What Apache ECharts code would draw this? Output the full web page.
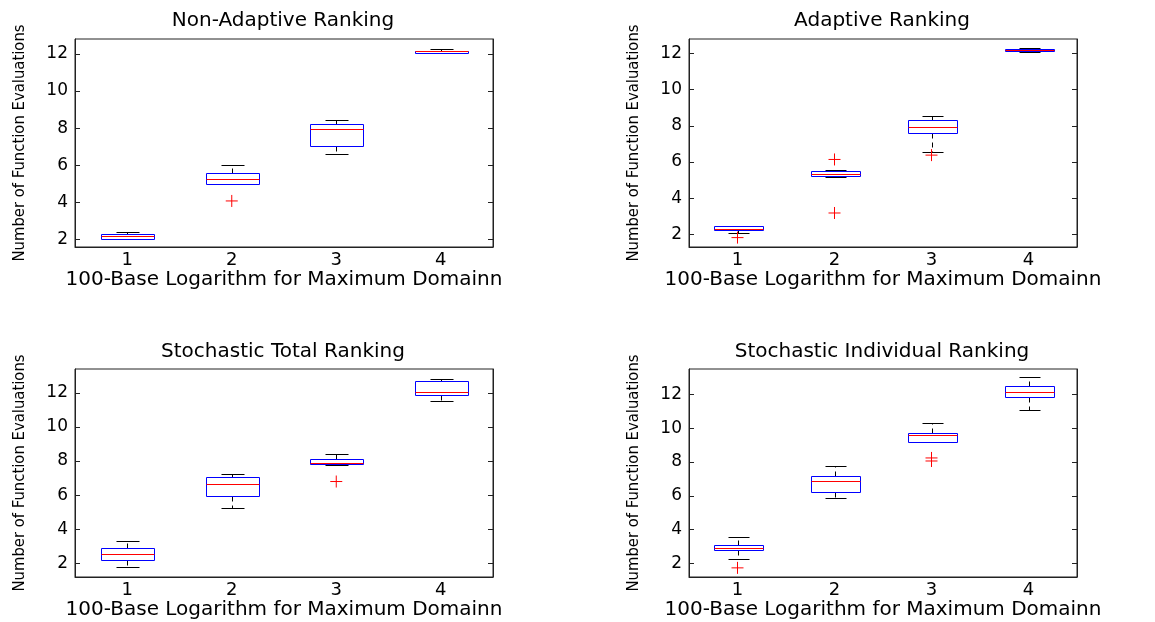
<!DOCTYPE html>
<html>
<head>
<meta charset="utf-8">
<script src="https://cdn.jsdelivr.net/npm/echarts@6/dist/echarts.min.js"></script>
<style>
html,body{margin:0;padding:0;background:#fff;}
#c{width:1155px;height:622px;}
</style>
</head>
<body>
<div id="c"></div>
<script>
// ---------- data ----------
const categories = ['1', '2', '3', '4'];
const yTicks = [2, 4, 6, 8, 10, 12];
const panelTitles = ['Non-Adaptive Ranking', 'Adaptive Ranking', 'Stochastic Total Ranking', 'Stochastic Individual Ranking'];
const xAxisName = '100-Base Logarithm for Maximum Domainn';
const yAxisName = 'Number of Function Evaluations';
const yMins = [1.6, 1.3, 1.2, 1.2];
const yMaxs = [12.8, 12.8, 13.4, 13.5];

// box stats per category: [min, q1, median, q3, max]
const nonAdaptiveStats = [
  [2.03, 2.05, 2.18, 2.32, 2.41],
  [4.97, 5.01, 5.26, 5.57, 6.01],
  [6.62, 7.04, 7.97, 8.24, 8.45],
  [12.03, 12.07, 12.16, 12.17, 12.27]
];
const adaptiveStats = [
  [2.09, 2.22, 2.31, 2.44, 2.44],
  [5.17, 5.20, 5.35, 5.52, 5.57],
  [6.53, 7.58, 7.91, 8.32, 8.52],
  [12.07, 12.15, 12.20, 12.24, 12.28]
];
const stochasticTotalStats = [
  [1.79, 2.19, 2.57, 2.88, 3.29],
  [5.24, 5.96, 6.64, 7.09, 7.26],
  [7.75, 7.83, 7.87, 8.10, 8.39],
  [11.51, 11.90, 12.08, 12.70, 12.84]
];
const stochasticIndividualStats = [
  [2.26, 2.77, 2.91, 3.11, 3.56],
  [5.90, 6.22, 6.89, 7.17, 7.78],
  [9.21, 9.21, 9.58, 9.72, 10.32],
  [11.07, 11.82, 12.16, 12.48, 13.01]
];
// outliers: [categoryIndex, value]
const nonAdaptiveOutliers = [[1, 4.08]];
const adaptiveOutliers = [[0, 1.82], [1, 6.14], [1, 3.18], [2, 6.38]];
const stochasticTotalOutliers = [[2, 6.80]];
const stochasticIndividualOutliers = [[0, 1.74], [2, 8.24], [2, 8.06]];

const allStats = [nonAdaptiveStats, adaptiveStats, stochasticTotalStats, stochasticIndividualStats];
const allOutliers = [nonAdaptiveOutliers, adaptiveOutliers, stochasticTotalOutliers, stochasticIndividualOutliers];

// ---------- layout ----------
const grids = [
  {left: 75, top: 39, width: 418, height: 208},
  {left: 689, top: 39, width: 388, height: 208},
  {left: 75, top: 369, width: 418, height: 208},
  {left: 689, top: 369, width: 388, height: 208}
];
const titleCenters = [[283, 21], [882, 21], [283, 352], [882, 352]];
const FONT = 'DejaVu Sans, sans-serif';
const AX = '#222';

function px(v) { return Math.round(v) + 0.5; }

function boxGeom(api) {
  const i = api.value(0);
  const c = api.coord([i, api.value(3)]);
  const bw = api.size([1, 0])[0] * 0.5;
  return {
    i: i, cx: px(c[0]), bw: bw,
    yMn: px(api.coord([i, api.value(1)])[1]),
    yQ1: px(api.coord([i, api.value(2)])[1]),
    yMd: px(c[1]),
    yQ3: px(api.coord([i, api.value(4)])[1]),
    yMx: px(api.coord([i, api.value(5)])[1])
  };
}

function renderWhiskers(params, api) {
  const g = boxGeom(api);
  const cw = g.bw * 0.45;
  const children = [];
  const xa = px(g.cx - cw / 2), xb = px(g.cx + cw / 2);
  if (g.yMx < g.yQ3) children.push({type: 'line', silent: true, shape: {x1: g.cx, y1: g.yQ3, x2: g.cx, y2: g.yMx}, style: {fill: 'none', stroke: '#000', lineWidth: 1, lineDash: [5, 4]}});
  if (g.yMn > g.yQ1) children.push({type: 'line', silent: true, shape: {x1: g.cx, y1: g.yQ1, x2: g.cx, y2: g.yMn}, style: {fill: 'none', stroke: '#000', lineWidth: 1, lineDash: [5, 4]}});
  children.push({type: 'line', silent: true, shape: {x1: xa, y1: g.yMx, x2: xb, y2: g.yMx}, style: {fill: 'none', stroke: '#000', lineWidth: 1}});
  children.push({type: 'line', silent: true, shape: {x1: xa, y1: g.yMn, x2: xb, y2: g.yMn}, style: {fill: 'none', stroke: '#000', lineWidth: 1}});
  return {type: 'group', children: children};
}

function renderRect(params, api) {
  const g = boxGeom(api);
  const x0 = px(g.cx - g.bw / 2), x1 = px(g.cx + g.bw / 2);
  return {type: 'rect', silent: true,
    shape: {x: x0, y: g.yQ3, width: x1 - x0, height: Math.max(g.yQ1 - g.yQ3, 1)},
    style: {fill: 'none', stroke: '#0000ff', lineWidth: 1}};
}

function renderMedian(params, api) {
  const g = boxGeom(api);
  const x0 = px(g.cx - g.bw / 2), x1 = px(g.cx + g.bw / 2);
  return {type: 'line', silent: true,
    shape: {x1: x0, y1: g.yMd, x2: x1, y2: g.yMd},
    style: {fill: 'none', stroke: '#ff0000', lineWidth: 1}};
}

const series = [];
allStats.forEach((stats, k) => {
  const data = stats.map((s, i) => [i].concat(s));
  const base = {type: 'custom', xAxisIndex: k, yAxisIndex: 2 * k, encode: {x: 0, y: [1, 2, 3, 4, 5]}, data: data, silent: true};
  series.push(Object.assign({}, base, {renderItem: renderWhiskers, z: 3}));
  series.push(Object.assign({}, base, {renderItem: renderRect, z: 4}));
  series.push(Object.assign({}, base, {renderItem: renderMedian, z: 5}));
  series.push({
    type: 'scatter', xAxisIndex: k, yAxisIndex: 2 * k, data: allOutliers[k], silent: true, z: 6,
    symbol: 'path://M0,6L12,6M6,0L6,12', symbolSize: 12,
    itemStyle: {color: 'none', borderColor: '#ff0000', borderWidth: 1, opacity: 1}
  });
});

const option = {
  backgroundColor: '#fff',
  animation: false,
  title: panelTitles.map((t, k) => ({
    text: t, left: titleCenters[k][0], top: titleCenters[k][1],
    textAlign: 'center', textVerticalAlign: 'middle', padding: 0,
    textStyle: {fontFamily: FONT, fontSize: 20, fontWeight: 'normal', color: '#000'}
  })),
  grid: grids.map(g => Object.assign({show: true, borderColor: AX, borderWidth: 1, backgroundColor: '#fff'}, g)),
  xAxis: grids.map((g, k) => ({
    gridIndex: k, type: 'category', data: categories, boundaryGap: true,
    axisLine: {show: true, lineStyle: {color: AX}},
    axisTick: {show: false},
    axisLabel: {fontFamily: FONT, fontSize: 18, color: '#000', margin: 4},
    splitLine: {show: false},
    name: xAxisName, nameLocation: 'middle', nameGap: 22,
    nameTextStyle: {fontFamily: FONT, fontSize: 20, color: '#000'}
  })),
  yAxis: [].concat(...grids.map((g, k) => [{
    gridIndex: k, type: 'value', min: yMins[k], max: yMaxs[k],
    axisLine: {show: true, lineStyle: {color: AX}},
    axisTick: {show: true, inside: true, length: 5, lineStyle: {color: AX}, customValues: yTicks},
    axisLabel: {fontFamily: FONT, fontSize: 17, color: '#000', margin: 7, customValues: yTicks},
    splitLine: {show: false},
    name: yAxisName, nameLocation: 'middle', nameGap: 47,
    nameTextStyle: {fontFamily: 'DejaVu Sans', fontWeight: 'condensed', fontSize: 16.5, color: '#000'}
  }, {
    gridIndex: k, type: 'value', position: 'right', min: yMins[k], max: yMaxs[k],
    axisLine: {show: true, lineStyle: {color: AX}},
    axisTick: {show: true, inside: true, length: 5, lineStyle: {color: AX}, customValues: yTicks},
    axisLabel: {show: false},
    splitLine: {show: false}
  }])),
  series: series
};

const chart = echarts.init(document.getElementById('c'), null, {renderer: 'canvas'});
chart.setOption(option);
</script>
</body>
</html>
